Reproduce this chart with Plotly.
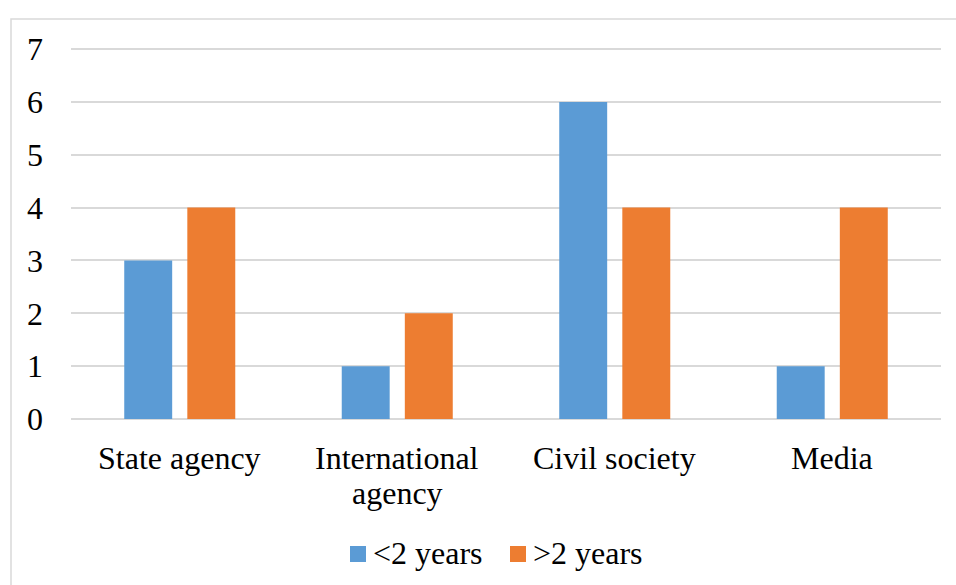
import plotly.graph_objects as go

categories = ["State agency", "International agency", "Civil society", "Media"]
category_lines = [["State agency"], ["International", "agency"], ["Civil society"], ["Media"]]
less_2 = [3, 1, 6, 1]
more_2 = [4, 2, 4, 4]
series_names = ["<2 years", ">2 years"]
colors = ["#5B9BD5", "#ED7D31"]

FONT = "Liberation Serif, Times New Roman, serif"
FS = 32

fig = go.Figure()
fig.add_trace(go.Bar(x=categories, y=less_2, name=series_names[0], showlegend=False,
                     marker=dict(color=colors[0], line=dict(width=0))))
fig.add_trace(go.Bar(x=categories, y=more_2, name=series_names[1], showlegend=False,
                     marker=dict(color=colors[1], line=dict(width=0))))

L, R, T, B = 71, 15, 48, 166
W, H = 956, 585
pw, ph = W - L - R, H - T - B

def px_x(p):
    return (p - L) / pw

def px_y(p):
    return (H - B - p) / ph

shapes = [dict(type="rect", xref="paper", yref="paper",
               x0=px_x(11), x1=px_x(962), y0=px_y(592), y1=px_y(19),
               line=dict(color="#D9D9D9", width=1.5), fillcolor="rgba(0,0,0,0)", layer="below")]
annotations = []

# category labels (one annotation per line, 35px line spacing)
for cat, lines in zip(categories, category_lines):
    for j, line in enumerate(lines):
        annotations.append(dict(text=line, xref="x", yref="paper", x=cat,
                                y=px_y(458 + 35 * j), xanchor="center", yanchor="middle",
                                showarrow=False, font=dict(family=FONT, size=FS, color="black")))

# manual legend (square + label)
legend_sq_x = [350, 510]
legend_txt_x = [373, 533]
for i in range(2):
    shapes.append(dict(type="rect", xref="paper", yref="paper",
                       x0=px_x(legend_sq_x[i]), x1=px_x(legend_sq_x[i] + 16),
                       y0=px_y(562), y1=px_y(546),
                       line=dict(width=0), fillcolor=colors[i]))
    annotations.append(dict(text=series_names[i], xref="paper", yref="paper",
                            x=px_x(legend_txt_x[i]), y=px_y(553), xanchor="left", yanchor="middle",
                            showarrow=False, font=dict(family=FONT, size=FS, color="black"),
                            xshift=-2))

fig.update_layout(
    width=W, height=H,
    margin=dict(l=L, r=R, t=T, b=B),
    paper_bgcolor="white", plot_bgcolor="white",
    font=dict(family=FONT, size=FS, color="black"),
    barmode="group",
    bargap=0.42,
    bargroupgap=0.24,
    showlegend=False,
    xaxis=dict(showgrid=False, showline=False, zeroline=False, ticks="", automargin=False,
               showticklabels=False),
    yaxis=dict(range=[0, 7.02], tickvals=[0, 1, 2, 3, 4, 5, 6, 7], showgrid=True,
               gridcolor="#D9D9D9", gridwidth=1.5, automargin=False,
               zeroline=True, zerolinecolor="#D9D9D9", zerolinewidth=1.5,
               showline=False, ticks="", ticklabelstandoff=27,
               tickfont=dict(family=FONT, size=FS, color="black")),
    shapes=shapes,
    annotations=annotations,
)

fig.write_html("out.html")
